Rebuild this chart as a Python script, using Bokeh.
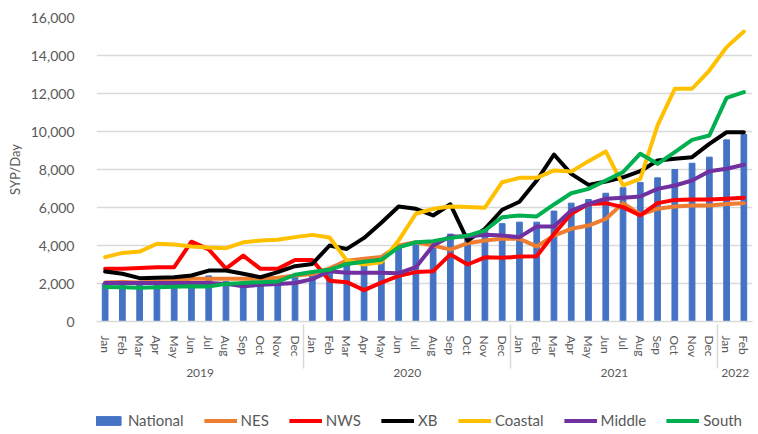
from bokeh.plotting import figure
from bokeh.layouts import column
from bokeh.models import (FactorRange, Range1d, FixedTicker, NumeralTickFormatter,
                          Legend, LegendItem)
from bokeh.embed import file_html
from bokeh.resources import INLINE

# ---------------- data ----------------
years = ["2019"] * 12 + ["2020"] * 12 + ["2021"] * 12 + ["2022"] * 2
month_names = ["Jan", "Feb", "Mar", "Apr", "May", "Jun",
               "Jul", "Aug", "Sep", "Oct", "Nov", "Dec"]
months = month_names * 3 + ["Jan", "Feb"]

national = [2000, 2020, 1950, 1980, 2000, 2050, 2400, 2100, 2000, 2050, 2100, 2450,
            2600, 2750, 3000, 2950, 3150, 4000, 4100, 4250, 4600, 4600, 4800, 5150,
            5230, 5230, 5810, 6230, 6420, 6750, 7040, 7320, 7560, 8000, 8330, 8650,
            9560, 9840]
nes = [2050, 2080, 2050, 2100, 2150, 2250, 2250, 2250, 2250, 2250, 2300, 2420,
       2500, 2800, 3200, 3300, 3400, 4000, 4170, 4000, 3780, 4120, 4260, 4350,
       4350, 3950, 4520, 4880, 5050, 5400, 6230, 5630, 5930, 6050, 6110, 6110,
       6190, 6230]
nws = [2770, 2770, 2810, 2860, 2860, 4200, 3800, 2780, 3470, 2770, 2770, 3240,
       3240, 2150, 2070, 1650, 2050, 2400, 2600, 2650, 3530, 3000, 3380, 3350,
       3420, 3440, 4610, 5670, 6190, 6230, 6020, 5580, 6230, 6400, 6420, 6420,
       6460, 6510]
xb = [2630, 2510, 2280, 2300, 2330, 2420, 2680, 2680, 2510, 2330, 2600, 2910,
      3030, 4000, 3820, 4400, 5200, 6050, 5930, 5580, 6170, 4260, 4880, 5880,
      6300, 7420, 8790, 7770, 7190, 7370, 7590, 7910, 8470, 8560, 8650, 9350,
      9960, 9960]
coastal = [3390, 3610, 3680, 4090, 4050, 3950, 3890, 3860, 4170, 4260, 4300, 4440,
           4560, 4420, 3210, 3000, 3120, 4260, 5670, 5930, 6050, 6020, 5990, 7330,
           7560, 7560, 7950, 7890, 8440, 8950, 7160, 7510, 10320, 12250, 12250, 13210,
           14440, 15260]
middle = [2030, 2030, 2030, 2030, 2030, 2030, 2030, 1980, 1860, 1930, 1980, 2030,
          2230, 2650, 2560, 2560, 2560, 2540, 2860, 4000, 4470, 4470, 4560, 4520,
          4440, 5000, 5000, 5840, 6190, 6460, 6510, 6580, 6980, 7160, 7420, 7910,
          8040, 8250]
south = [1810, 1800, 1770, 1800, 1830, 1860, 1840, 1980, 2030, 2070, 2100, 2460,
         2600, 2720, 3030, 3150, 3250, 3900, 4170, 4230, 4400, 4520, 4790, 5490,
         5580, 5530, 6160, 6750, 6980, 7420, 7860, 8830, 8300, 8910, 9560, 9790,
         11770, 12070]

y_ticks = [0, 2000, 4000, 6000, 8000, 10000, 12000, 14000, 16000]
y_title = "SYP/Day"

series = [("NES", nes, "#ED7D31"), ("NWS", nws, "#FF0000"), ("XB", xb, "#000000"),
          ("Coastal", coastal, "#FFC000"), ("Middle", middle, "#7030A0"),
          ("South", south, "#00B050")]
BAR_COLOR = "#4472C4"

# ---------------- chart figure ----------------
FONT = "Lato"
GREY = "#595959"
factors = list(zip(years, months))

p = figure(x_range=FactorRange(*factors, factor_padding=0, group_padding=0,
                               subgroup_padding=0, range_padding=0),
           y_range=Range1d(0, 16000),
           width=758, height=406, output_backend="svg", toolbar_location=None,
           min_border_left=96, min_border_right=6, min_border_top=17,
           min_border_bottom=85)
p.outline_line_color = None
p.background_fill_color = "white"
p.border_fill_color = "white"

p.vbar(x=factors, top=national, width=0.33, color=BAR_COLOR)
for name, vals, col in series:
    p.line(x=factors, y=vals, line_width=4, line_color=col,
           line_join="round", line_cap="round")

# y axis
p.yaxis.ticker = FixedTicker(ticks=y_ticks)
p.yaxis.formatter = NumeralTickFormatter(format="0,0")
p.yaxis.axis_line_color = None
p.yaxis.major_tick_line_color = None
p.yaxis.minor_tick_line_color = None
p.yaxis.major_label_standoff = 16
p.yaxis.major_label_text_font = FONT
p.yaxis.major_label_text_font_size = "14px"
p.yaxis.major_label_text_color = GREY
p.yaxis.axis_label = y_title
p.yaxis.axis_label_standoff = 5
p.yaxis.axis_label_text_font = FONT
p.yaxis.axis_label_text_font_size = "13px"
p.yaxis.axis_label_text_font_style = "normal"
p.yaxis.axis_label_text_color = GREY
p.ygrid.grid_line_color = "#d9d9d9"
p.ygrid.grid_line_width = 1.5
p.xgrid.grid_line_color = None

# x axis
xa = p.xaxis[0]
xa.axis_line_color = "#d9d9d9"
xa.axis_line_width = 1.5
xa.major_tick_line_color = None
xa.minor_tick_line_color = None
xa.major_label_orientation = "vertical"
xa.major_label_standoff = 8
xa.major_label_text_font = FONT
xa.major_label_text_font_size = "12px"
xa.major_label_text_color = GREY
xa.group_text_font = FONT
xa.group_text_font_size = "12px"
xa.group_text_font_style = "normal"
xa.group_text_color = GREY
xa.group_label_orientation = "horizontal"
xa.separator_line_color = "#d9d9d9"
xa.separator_line_width = 1.5

# ---------------- legend strip ----------------
lg = figure(width=758, height=28, output_backend="svg", toolbar_location=None,
            x_range=Range1d(0, 1), y_range=Range1d(0, 1),
            x_axis_type=None, y_axis_type=None,
            min_border_left=0, min_border_right=0, min_border_top=0,
            min_border_bottom=0)
lg.outline_line_color = None
lg.grid.visible = False
lg.border_fill_color = "white"
lg.background_fill_color = "white"

# legend keys: renderers whose single point lies outside the strip's visible range
key_bar = lg.vbar(x=[-5], top=[-4], width=0.33, color=BAR_COLOR)
items = [LegendItem(label="National", renderers=[key_bar])]
for name, vals, col in series:
    key_line = lg.line(x=[-5, -4], y=[-5, -5], line_width=4, line_color=col)
    items.append(LegendItem(label=name, renderers=[key_line]))

legend = Legend(items=items, orientation="horizontal", location="center_right",
                glyph_width=33, glyph_height=11, label_standoff=4, spacing=20,
                padding=0, margin=10, border_line_color=None,
                background_fill_alpha=0,
                label_text_font=FONT, label_text_font_size="15px",
                label_text_color=GREY)
lg.add_layout(legend)

layout = column(p, lg, spacing=0)
open("out.html", "w").write(file_html(layout, INLINE))
